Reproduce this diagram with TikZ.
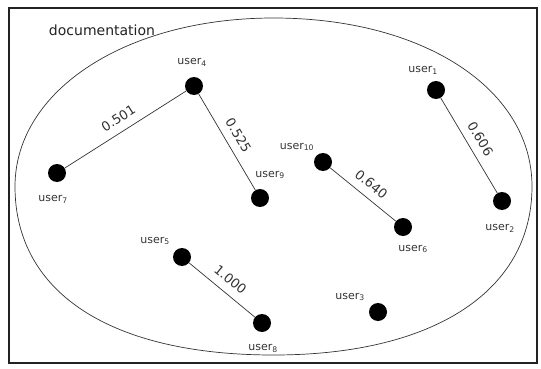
\documentclass[tikz,border=0pt]{standalone}
\usepackage{fontspec}
\setmainfont{DejaVu Sans}
\usetikzlibrary{positioning}
\definecolor{ink}{HTML}{333333}
\definecolor{frame}{HTML}{222222}

\begin{document}
\begin{tikzpicture}[x=1pt, y=-1pt,
	member/.style={circle, fill=black, inner sep=0pt, minimum size=18pt},
	tag/.style={inner sep=0pt, text=ink, font=\fontsize{11}{13}\selectfont},
	link/.style={draw=ink, line width=0.7pt},
	wt/.style={sloped, above=8pt, inner sep=0pt, text=ink, font=\fontsize{13}{15}\selectfont}]
	\useasboundingbox (0,0) rectangle (541,369);
	\draw[frame, line width=1.5pt] (9,8) rectangle (537,363);
	% the set
	\draw[ink, line width=0.7pt] (273.5,18)
		.. controls (423.4,18) and (532,88.8) .. (532,186.5)
		.. controls (532,291) and (433.8,355) .. (273.5,355)
		.. controls (110.6,355) and (15,292.7) .. (15,186.5)
		.. controls (15,90.5) and (126.2,18) .. cycle;
	\node[text=frame, inner sep=0pt, font=\fontsize{14}{16}\selectfont] (doc) at (102,30) {documentation};

	% users
	\node[member] (u1) at (436,90) {};
	\node[member] (u2) at (502,201) {};
	\node[member] (u3) at (378,312) {};
	\node[member] (u4) at (194,86) {};
	\node[member] (u5) at (182,257) {};
	\node[member] (u6) at (403,227) {};
	\node[member] (u7) at (57,173) {};
	\node[member] (u8) at (262,323) {};
	\node[member] (u9) at (260,198) {};
	\node[member] (u10) at (323,162) {};

	\node[tag] (t1) at ([shift={(-13,-20)}]u1) {user\textsubscript{1}};
	\node[tag] (t2) at ([shift={(-2,27)}]u2) {user\textsubscript{2}};
	\node[tag] (t3) at ([shift={(-28,-15)}]u3) {user\textsubscript{3}};
	\node[tag] (t4) at ([shift={(-2,-24)}]u4) {user\textsubscript{4}};
	\node[tag] (t5) at ([shift={(-27,-16)}]u5) {user\textsubscript{5}};
	\node[tag] (t6) at ([shift={(10,22)}]u6) {user\textsubscript{6}};
	\node[tag] (t7) at ([shift={(-4,26)}]u7) {user\textsubscript{7}};
	\node[tag] (t8) at ([shift={(1,25)}]u8) {user\textsubscript{8}};
	\node[tag] (t9) at ([shift={(10,-23)}]u9) {user\textsubscript{9}};
	\node[tag] (t10) at ([shift={(-26,-15)}]u10) {user\textsubscript{10}};

	% similarities
	\draw[link] (u7) -- node[wt] {0.501} (u4);
	\draw[link] (u4) -- node[wt] {0.525} (u9);
	\draw[link] (u1) -- node[wt] {0.606} (u2);
	\draw[link] (u10) -- node[wt] {0.640} (u6);
	\draw[link] (u5) -- node[wt] {1.000} (u8);
\end{tikzpicture}
\end{document}
